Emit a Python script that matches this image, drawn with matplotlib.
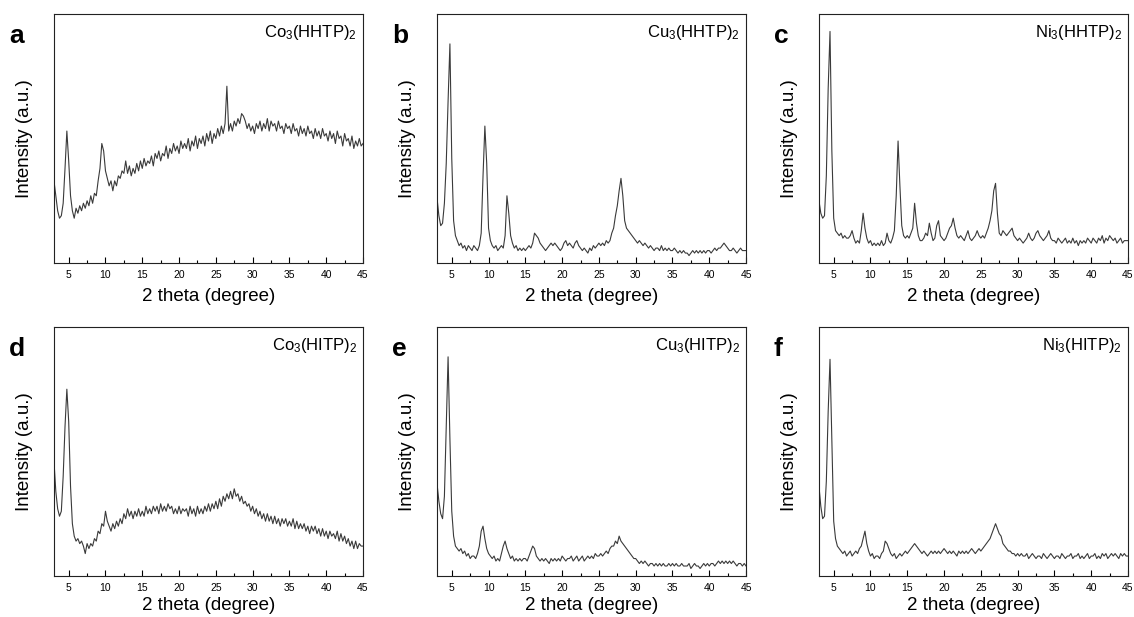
#XRD patterns of the six M3(HHTP)2 / M3(HITP)2 frameworks, one panel each

import matplotlib
matplotlib.use('Agg')
import matplotlib.pyplot as plt
import numpy as np
from matplotlib.ticker import MultipleLocator

plt.rcParams['font.family'] = ['Liberation Sans', 'DejaVu Sans']
plt.rcParams['mathtext.default'] = 'regular'

# scan grid, 0.25 degree step from 3 to 45
two_theta = np.arange(3, 45.001, 0.25)

# intensities (% of panel height), 8 points per row = 2 degrees
co_hhtp = [33, 27, 21, 18, 19, 24, 38, 53,
           41, 27, 21, 18, 22, 20, 23, 21,
           24, 22, 25, 23, 27, 24, 28, 27,
           33, 38, 48, 45, 37, 34, 31, 33,
           29, 33, 31, 35, 34, 37, 36, 41,
           36, 39, 35, 38, 36, 40, 37, 41,
           38, 42, 39, 41, 40, 43, 39, 44,
           42, 45, 41, 44, 43, 47, 42, 46,
           44, 48, 45, 47, 44, 49, 46, 48,
           46, 50, 45, 49, 47, 51, 46, 50,
           48, 51, 47, 52, 49, 53, 48, 52,
           50, 54, 51, 55, 52, 56, 71, 53,
           56, 53, 57, 55, 58, 56, 60, 59,
           57, 54, 56, 53, 55, 52, 56, 54,
           57, 53, 56, 54, 58, 53, 57, 55,
           56, 53, 57, 54, 55, 52, 56, 54,
           55, 52, 56, 53, 54, 51, 55, 52,
           54, 51, 55, 52, 53, 50, 54, 51,
           53, 50, 54, 51, 52, 49, 53, 50,
           52, 48, 53, 50, 51, 47, 52, 49,
           50, 47, 51, 46, 49, 47, 50, 47,
           48]

cu_hhtp = [26, 19, 15, 16, 24, 40, 65, 88,
           42, 17, 11, 9, 7, 8, 6, 7,
           5, 7, 6, 5, 7, 6, 5, 7,
           12, 35, 55, 40, 14, 9, 7, 6,
           7, 5, 6, 7, 6, 11, 27, 20,
           11, 8, 6, 7, 5, 6, 5, 6,
           5, 6, 7, 6, 8, 12, 11, 10,
           8, 7, 6, 5, 6, 7, 8, 7,
           8, 7, 6, 5, 6, 8, 9, 7,
           8, 7, 6, 8, 9, 7, 6, 5,
           6, 5, 4, 6, 5, 7, 6, 7,
           8, 7, 8, 7, 9, 8, 9, 12,
           14, 19, 23, 29, 34, 27, 17, 14,
           13, 12, 11, 10, 9, 8, 9, 8,
           7, 8, 7, 6, 7, 6, 5, 6,
           6, 5, 7, 5, 6, 5, 6, 5,
           5, 6, 5, 4, 5, 4, 5, 4,
           4, 3, 4, 5, 4, 5, 4, 5,
           4, 5, 4, 5, 5, 4, 5, 6,
           5, 6, 6, 7, 8, 7, 6, 5,
           5, 6, 5, 4, 5, 6, 5, 5,
           5]

ni_hhtp = [25, 20, 18, 19, 35, 70, 93, 45,
           18, 13, 12, 11, 12, 10, 11, 10,
           10, 11, 13, 10, 8, 9, 8, 13,
           20, 14, 10, 8, 9, 7, 8, 7,
           8, 7, 9, 7, 8, 12, 9, 8,
           10, 13, 27, 49, 31, 15, 11, 10,
           11, 10, 12, 14, 24, 16, 11, 9,
           9, 10, 12, 11, 16, 12, 9, 10,
           15, 17, 11, 10, 9, 10, 12, 14,
           15, 18, 14, 11, 10, 11, 10, 9,
           11, 13, 10, 9, 10, 11, 13, 11,
           10, 11, 10, 12, 14, 17, 21, 29,
           32, 20, 12, 11, 13, 12, 11, 12,
           13, 14, 11, 10, 9, 10, 9, 8,
           9, 10, 12, 10, 9, 10, 12, 13,
           11, 10, 9, 10, 11, 13, 10, 9,
           9, 8, 10, 9, 8, 9, 10, 8,
           9, 8, 10, 8, 9, 7, 9, 8,
           9, 8, 10, 9, 8, 10, 9, 8,
           10, 9, 11, 8, 10, 9, 11, 10,
           9, 10, 8, 9, 10, 8, 9, 9,
           9]

co_hitp = [46, 34, 27, 24, 26, 40, 60, 75,
           62, 36, 21, 16, 14, 15, 13, 14,
           12, 9, 13, 11, 13, 12, 15, 14,
           18, 17, 21, 20, 26, 22, 20, 18,
           21, 19, 22, 20, 23, 21, 25, 23,
           27, 24, 26, 23, 26, 24, 27, 24,
           26, 24, 28, 25, 27, 25, 28, 26,
           28, 25, 29, 26, 28, 26, 29, 27,
           28, 25, 27, 25, 28, 25, 27, 26,
           27, 24, 28, 25, 27, 24, 28, 25,
           27, 25, 28, 26, 29, 26, 29, 27,
           30, 27, 31, 28, 32, 30, 33, 31,
           34, 31, 35, 32, 33, 30, 32, 29,
           30, 28, 29, 26, 28, 25, 27, 24,
           26, 23, 25, 22, 25, 22, 24, 21,
           24, 21, 23, 20, 23, 21, 23, 20,
           22, 20, 23, 19, 22, 19, 21, 19,
           21, 18, 20, 17, 20, 18, 20, 17,
           19, 16, 19, 16, 18, 15, 18, 16,
           17, 15, 18, 14, 17, 14, 16, 13,
           15, 12, 14, 11, 14, 11, 13, 12,
           12]

cu_hitp = [37, 30, 25, 23, 32, 60, 88, 55,
           26, 16, 12, 11, 10, 11, 9, 10,
           8, 9, 7, 8, 8, 7, 9, 12,
           18, 20, 15, 11, 9, 8, 7, 8,
           6, 7, 6, 9, 12, 14, 11, 9,
           7, 8, 6, 7, 6, 7, 6, 7,
           7, 6, 8, 10, 12, 11, 8, 7,
           6, 7, 6, 7, 6, 5, 7, 6,
           7, 6, 7, 6, 8, 7, 6, 7,
           7, 8, 6, 7, 8, 6, 7, 8,
           6, 7, 8, 7, 8, 7, 9, 8,
           8, 9, 8, 9, 10, 9, 11, 12,
           12, 14, 13, 16, 14, 13, 12, 11,
           10, 9, 8, 7, 7, 6, 5, 6,
           5, 6, 5, 4, 5, 5, 4, 5,
           4, 5, 4, 5, 4, 4, 5, 4,
           5, 4, 5, 4, 4, 5, 4, 4,
           4, 5, 3, 4, 5, 4, 4, 3,
           4, 5, 4, 5, 4, 5, 5, 4,
           5, 6, 5, 6, 5, 6, 5, 6,
           5, 6, 5, 4, 5, 5, 4, 5,
           4]

ni_hitp = [36, 28, 23, 24, 38, 66, 87, 55,
           22, 15, 12, 11, 10, 9, 10, 8,
           9, 10, 8, 9, 10, 9, 11, 12,
           15, 18, 13, 10, 8, 9, 7, 8,
           8, 7, 9, 10, 14, 13, 11, 9,
           8, 9, 7, 8, 9, 8, 9, 10,
           9, 10, 11, 12, 13, 12, 11, 10,
           9, 10, 9, 8, 9, 10, 9, 10,
           9, 10, 9, 10, 11, 10, 9, 10,
           9, 10, 9, 8, 10, 9, 10, 9,
           10, 9, 10, 11, 10, 9, 10, 11,
           10, 11, 12, 13, 14, 15, 17, 19,
           21, 19, 17, 16, 13, 12, 11, 10,
           10, 9, 9, 8, 9, 8, 9, 8,
           8, 9, 7, 8, 9, 8, 7, 8,
           8, 7, 9, 8, 7, 8, 9, 8,
           7, 8, 8, 7, 9, 8, 7, 8,
           8, 9, 7, 8, 8, 9, 7, 8,
           7, 8, 9, 7, 8, 8, 9, 7,
           8, 7, 9, 8, 9, 7, 8, 9,
           8, 9, 8, 7, 9, 8, 9, 8,
           8]

patterns = [co_hhtp, cu_hhtp, ni_hhtp, co_hitp, cu_hitp, ni_hitp]
sample_names = ['Co$_3$(HHTP)$_2$', 'Cu$_3$(HHTP)$_2$', 'Ni$_3$(HHTP)$_2$',
                'Co$_3$(HITP)$_2$', 'Cu$_3$(HITP)$_2$', 'Ni$_3$(HITP)$_2$']
panel_letters = ['a', 'b', 'c', 'd', 'e', 'f']

fig = plt.figure(figsize=(11.34, 6.17), dpi=100)

# axes boxes in figure fractions
lefts = [0.0476, 0.3854, 0.7222]
bottoms = [0.5737, 0.0665]
w, h = 0.2725, 0.4036
xlabel_y = [-0.1, -0.085]   # bottom row label sits a bit closer

for i in range(6):
    ax = fig.add_axes([lefts[i % 3], bottoms[i // 3], w, h])
    ax.plot(two_theta, patterns[i], color='#3a3a3a', lw=0.8)
    ax.set_xlim(3, 45)
    ax.set_ylim(0, 100)
    ax.set_yticks([])
    ax.xaxis.set_major_locator(MultipleLocator(5))
    ax.xaxis.set_minor_locator(MultipleLocator(2.5))
    ax.tick_params(axis='x', which='major', direction='in', length=4, width=0.8,
                   pad=5, labelsize=7.5)
    ax.tick_params(axis='x', which='minor', direction='in', length=2, width=0.8)
    for sp in ax.spines.values():
        sp.set_linewidth(0.8)
        sp.set_color('#222222')

    ax.set_xlabel('2 theta (degree)', fontsize=13.5)
    ax.xaxis.set_label_coords(0.5, xlabel_y[i // 3])
    ax.set_ylabel('Intensity (a.u.)', fontsize=13.5)
    ax.yaxis.set_label_coords(-0.068, 0.5)

    ax.text(0.981, 0.908, sample_names[i], transform=ax.transAxes,
            ha='right', va='baseline', fontsize=12)
    ax.text(-0.146, 0.884, panel_letters[i], transform=ax.transAxes,
            ha='left', va='baseline', fontsize=19, fontweight='bold')

plt.savefig('out.png', dpi=100)
